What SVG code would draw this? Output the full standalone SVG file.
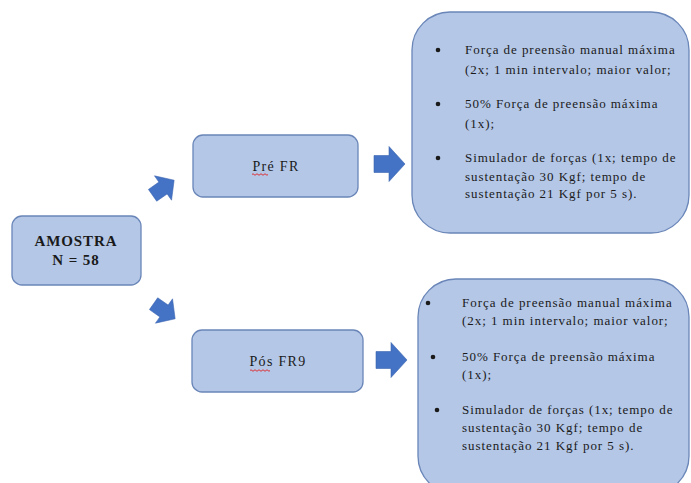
<svg xmlns="http://www.w3.org/2000/svg" width="691" height="483" viewBox="0 0 691 483">
<style>
.box{fill:#B4C7E7;stroke:#6A86B8;stroke-width:1.3}
.t{font-family:"Liberation Serif","Times New Roman",serif;fill:#1a1a1a}
.body{font-size:13px;letter-spacing:0.95px}
.lbl{font-size:14px;letter-spacing:1.3px}
.bold{font-size:15px;font-weight:bold;letter-spacing:0.9px}
.arr{fill:#4472C4;stroke:#3A64B0;stroke-width:0.6}
.sq{fill:none;stroke:#E02020;stroke-width:0.9}
</style>
<defs>
<path id="ba" d="M-15,-8.5 H0 V-17.5 L16,0 L0,17.5 V8.5 H-15 Z"/>
</defs>
<rect width="691" height="483" fill="#ffffff"/>
<g id="connectors">
<use href="#ba" class="arr" transform="translate(163,188) rotate(-35) scale(0.85)"/>
<use href="#ba" class="arr" transform="translate(164,311) rotate(35) scale(0.85)"/>
<use href="#ba" class="arr" transform="translate(389,164)"/>
<use href="#ba" class="arr" transform="translate(391,360)"/>
</g>
<g id="amostra">
<rect class="box" x="12" y="216" width="129" height="69" rx="10"/>
<text class="t bold" x="76" y="246" text-anchor="middle">AMOSTRA</text>
<text class="t bold" x="76" y="265" text-anchor="middle">N = 58</text>
</g>
<g id="pre">
<rect class="box" x="193" y="135" width="165" height="62" rx="10"/>
<text class="t lbl" x="276" y="171" text-anchor="middle">Pré FR</text>
<path class="sq" d="M252,174.5 q1,-1.5 2,0 t2,0 t2,0 t2,0 t2,0 t2,0 t2,0 t2,0"/>
</g>
<g id="pos">
<rect class="box" x="192" y="330" width="171" height="62" rx="10"/>
<text class="t lbl" x="278" y="366" text-anchor="middle">Pós FR9</text>
<path class="sq" d="M250,370.5 q1,-1.5 2,0 t2,0 t2,0 t2,0 t2,0 t2,0 t2,0 t2,0 t2,0 t2,0"/>
</g>
<g id="pre-details">
<rect class="box" x="412" y="12" width="277" height="221" rx="38"/>
<circle cx="438" cy="50" r="2.3" fill="#1a1a1a"/>
<circle cx="438" cy="104" r="2.3" fill="#1a1a1a"/>
<circle cx="438" cy="158" r="2.3" fill="#1a1a1a"/>
<text class="t body" x="465" y="54">Força de preensão manual máxima</text>
<text class="t body" x="465" y="74">(2x; 1 min intervalo; maior valor;</text>
<text class="t body" x="465" y="108">50% Força de preensão máxima</text>
<text class="t body" x="465" y="128">(1x);</text>
<text class="t body" x="465" y="162">Simulador de forças (1x; tempo de</text>
<text class="t body" x="465" y="181">sustentação 30 Kgf; tempo de</text>
<text class="t body" x="465" y="198">sustentação 21 Kgf por 5 s).</text>
</g>
<g id="pos-details">
<rect class="box" x="418" y="279" width="271" height="215" rx="38"/>
<circle cx="428" cy="303" r="2.3" fill="#1a1a1a"/>
<circle cx="433" cy="357" r="2.3" fill="#1a1a1a"/>
<circle cx="437" cy="410" r="2.3" fill="#1a1a1a"/>
<text class="t body" x="462" y="307">Força de preensão manual máxima</text>
<text class="t body" x="462" y="325">(2x; 1 min intervalo; maior valor;</text>
<text class="t body" x="462" y="361">50% Força de preensão máxima</text>
<text class="t body" x="462" y="379">(1x);</text>
<text class="t body" x="462" y="414">Simulador de forças (1x; tempo de</text>
<text class="t body" x="462" y="432">sustentação 30 Kgf; tempo de</text>
<text class="t body" x="462" y="450">sustentação 21 Kgf por 5 s).</text>
</g>
</svg>
